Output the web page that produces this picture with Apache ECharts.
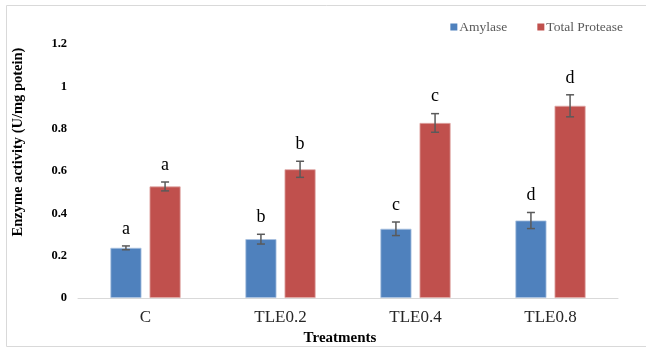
<!DOCTYPE html>
<html><head><meta charset="utf-8">
<script src="https://cdn.jsdelivr.net/npm/echarts@6/dist/echarts.min.js"></script>
<style>html,body{margin:0;padding:0;background:#fff}#c{width:646px;height:349px}</style>
</head><body><div id="c"></div>
<script>
var categories = ['C', 'TLE0.2', 'TLE0.4', 'TLE0.8'];
var amylase = [0.237, 0.278, 0.327, 0.366];
var amylaseErr = [0.009, 0.023, 0.032, 0.038];
var amylaseLetters = ['a', 'b', 'c', 'd'];
var protease = [0.527, 0.608, 0.827, 0.908];
var proteaseErr = [0.021, 0.038, 0.044, 0.052];
var proteaseLetters = ['a', 'b', 'c', 'd'];
var yTicks = [0, 0.2, 0.4, 0.6, 0.8, 1, 1.2];

var CAT_GAP = 0.48, BAR_GAP = 0.26;
var serif = '"Liberation Serif", "Times New Roman", serif';

function errSeries(vals, errs, letters, side) {
  var data = vals.map(function (v, i) { return [i, v, errs[i], letters[i]]; });
  return {
    type: 'custom',
    z: 5,
    data: data,
    renderItem: function (params, api) {
      var i = api.value(0), v = api.value(1), e = api.value(2);
      var band = api.size([1, 0])[0];
      var bw = band * (1 - CAT_GAP) / (2 + BAR_GAP);
      var off = side * (bw + bw * BAR_GAP) / 2;
      var top = api.coord([i, v + e]);
      var bot = api.coord([i, v - e]);
      var x = top[0] + off;
      var cap = 4;
      var st = { stroke: '#5a5a5a', lineWidth: 1.5 };
      return {
        type: 'group',
        children: [
          { type: 'line', shape: { x1: x, y1: top[1], x2: x, y2: bot[1] }, style: st },
          { type: 'line', shape: { x1: x - cap, y1: top[1], x2: x + cap, y2: top[1] }, style: st },
          { type: 'line', shape: { x1: x - cap, y1: bot[1], x2: x + cap, y2: bot[1] }, style: st },
          { type: 'text', style: { text: letters[params.dataIndex], x: x, y: top[1] - 8, align: 'center', verticalAlign: 'bottom', font: '18px ' + serif, fill: '#000' } }
        ]
      };
    }
  };
}

var chart = echarts.init(document.getElementById('c'));
chart.setOption({
  animation: false,
  grid: { left: 78, right: 28, top: 44, bottom: 51, outerBoundsMode: 'none', containLabel: false },
  legend: {
    top: 15, right: 18,
    itemWidth: 7, itemHeight: 7, itemGap: 30,
    icon: 'rect',
    itemStyle: { borderWidth: 0 },
    textStyle: { fontFamily: serif, fontSize: 13.5, color: '#595959', padding: [0, 0, 0, -3] },
    data: ['Amylase', 'Total Protease']
  },
  graphic: [{
    type: 'rect', shape: { x: 6.5, y: 5.5, width: 660, height: 341 },
    style: { fill: 'none', stroke: '#d9d9d9', lineWidth: 1 }, silent: true
  }],
  xAxis: {
    type: 'category', data: categories,
    axisLine: { lineStyle: { color: '#d9d9d9', width: 1 } },
    axisTick: { show: false },
    axisLabel: { fontFamily: serif, fontSize: 17, color: '#262626', margin: 11 },
    name: 'Treatments', nameLocation: 'middle', nameGap: 28,
    nameTextStyle: { fontFamily: serif, fontSize: 15, fontWeight: 'bold', color: '#000', padding: [0, 16, 0, 0] }
  },
  yAxis: {
    type: 'value', min: 0, max: 1.2, interval: 0.2,
    axisLine: { show: false }, axisTick: { show: false }, splitLine: { show: false },
    axisLabel: {
      fontFamily: serif, fontSize: 12.5, fontWeight: 'bold', color: '#000', margin: 11,
      formatter: function (v) { var t = yTicks.filter(function (x) { return Math.abs(x - v) < 1e-9; }); return t.length ? String(+t[0].toFixed(1)) : ''; }
    },
    name: 'Enzyme activity (U/mg potein)', nameLocation: 'middle', nameGap: 52,
    nameTextStyle: { fontFamily: serif, fontSize: 14.5, fontWeight: 'bold', color: '#000', padding: [0, 0, 0, 58] }
  },
  series: [
    { name: 'Amylase', type: 'bar', data: amylase, barCategoryGap: (CAT_GAP * 100) + '%', barGap: (BAR_GAP * 100) + '%',
      itemStyle: { color: '#4f81bd', borderColor: '#a9c1df', borderWidth: 0.8 } },
    { name: 'Total Protease', type: 'bar', data: protease, barCategoryGap: (CAT_GAP * 100) + '%', barGap: (BAR_GAP * 100) + '%',
      itemStyle: { color: '#c0504d', borderColor: '#e0a8a6', borderWidth: 0.8 } },
    errSeries(amylase, amylaseErr, amylaseLetters, -1),
    errSeries(protease, proteaseErr, proteaseLetters, 1)
  ]
});
</script></body></html>
